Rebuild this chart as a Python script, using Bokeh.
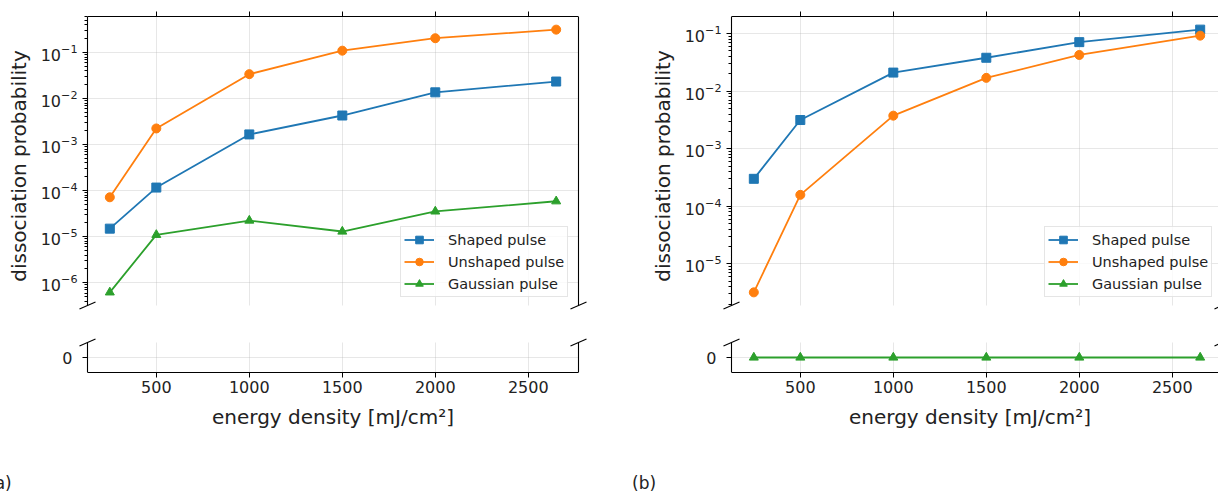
import numpy as np
from bokeh.plotting import figure
from bokeh.models import (ColumnDataSource, Range1d, LinearAxis, LogAxis, FixedTicker,
                          LogTickFormatter, CustomJSTickFormatter, Grid, Legend,
                          LegendItem, Div)
from bokeh.layouts import row, column
from bokeh.embed import file_html
from bokeh.resources import INLINE

# ---------------- data ----------------
energy = [250, 500, 1000, 1500, 2000, 2650]

a_shaped = [1.5e-5, 1.17e-4, 1.67e-3, 4.3e-3, 1.37e-2, 2.35e-2]
a_unshaped = [7.2e-5, 2.25e-3, 3.4e-2, 1.1e-1, 2.05e-1, 3.15e-1]
a_gaussian = [6.2e-7, 1.1e-5, 2.25e-5, 1.3e-5, 3.55e-5, 5.9e-5]

b_shaped = [3.0e-4, 3.15e-3, 2.1e-2, 3.8e-2, 7.1e-2, 1.17e-1]
b_unshaped = [3.2e-6, 1.58e-4, 3.75e-3, 1.7e-2, 4.25e-2, 9.2e-2]
b_gaussian = [0, 0, 0, 0, 0, 0]

series_names = ["Shaped pulse", "Unshaped pulse", "Gaussian pulse"]
x_ticks = [500, 1000, 1500, 2000, 2500]
a_decades = [-6, -5, -4, -3, -2, -1]
b_decades = [-5, -4, -3, -2, -1]
zero_ticks = [0]
x_label = "energy density [mJ/cm\u00b2]"
y_label = "dissociation probability"
panel_tags = ["(a)", "(b)"]

# ---------------- style / layout ----------------
colors = ["#1f77b4", "#ff7f0e", "#2ca02c"]
markers = ["square", "circle", "triangle"]
FONT = "DejaVu Sans"
TXT = "#222222"
TOP_H, BOT_H, FULL_W = 289, 30, 491   # axes sizes in px
M = 10                                 # frame extension beyond the spines (for break marks)
GRID_C, GRID_A = "#b0b0b0", 0.3
Z_LO, Z_HI = -0.055, 0.055             # limits of the "zero" axes

span = max(energy) - min(energy)
x_lo = min(energy) - 0.05 * span
x_hi = max(energy) + 0.05 * span
PX_X = FULL_W / (x_hi - x_lo)


def style_axis(ax):
    ax.axis_line_color = "black"
    ax.axis_line_width = 1.1
    ax.major_tick_line_color = "black"
    ax.minor_tick_line_color = "black"
    ax.major_tick_in = 0
    ax.major_tick_out = 5
    ax.minor_tick_in = 0
    ax.minor_tick_out = 0
    ax.major_label_text_font = FONT
    ax.major_label_text_color = TXT
    ax.major_label_text_font_size = "16px"
    ax.major_label_standoff = 4
    ax.axis_label_text_font = FONT
    ax.axis_label_text_font_size = "20px"
    ax.axis_label_text_font_style = "normal"
    ax.axis_label_text_color = TXT


def inner_left(ax):
    # axis sits at the frame edge; spine drawn separately M px inside
    ax.axis_line_color = None
    ax.major_tick_in = M
    ax.major_tick_out = 5 - M
    ax.minor_tick_in = M
    ax.minor_tick_out = 3 - M
    ax.major_label_standoff = 5


def panel(series, decades, left_b, frame_w, right_b, tag, indent):
    x0 = x_lo - M / PX_X
    x1 = x0 + frame_w / PX_X
    xr = Range1d(x0, x1)

    pos = [v for s in series for v in s if v > 0]
    llo, lhi = np.log10(min(pos)), np.log10(max(pos))
    mm = 0.05 * (lhi - llo)
    llo, lhi = llo - mm, lhi + mm
    px_dec = TOP_H / (lhi - llo)
    y_lo, y_hi = 10 ** llo, 10 ** lhi
    width = left_b + frame_w + right_b
    z_top = Z_HI + M * (Z_HI - Z_LO) / BOT_H

    common = dict(width=width, x_range=xr, x_axis_location=None, y_axis_location=None,
                  toolbar_location=None, output_backend="svg",
                  min_border_left=left_b, min_border_right=right_b,
                  outline_line_color=None)
    top = figure(height=16 + TOP_H + M + 10, y_range=Range1d(10 ** (llo - M / px_dec), y_hi),
                 y_axis_type="log", min_border_top=16, min_border_bottom=10, **common)
    bot = figure(height=7 + BOT_H + M + 98, y_range=Range1d(Z_LO, z_top),
                 min_border_top=7, min_border_bottom=98, **common)
    for p in (top, bot):
        p.center = [r for r in p.center if not isinstance(r, Grid)]

    majors = [10.0 ** e for e in decades]
    minors = [k * 10.0 ** e for e in range(decades[0] - 2, decades[-1] + 2) for k in range(2, 10)]
    minors = [v for v in minors if y_lo <= v <= y_hi]

    # --- top axes
    ly = LogAxis(ticker=FixedTicker(ticks=majors, minor_ticks=minors),
                 formatter=LogTickFormatter(), axis_label=y_label, bounds=(y_lo, y_hi))
    style_axis(ly)
    inner_left(ly)
    ly.axis_label_standoff = 7
    top.add_layout(ly, "left")
    ax_top = LinearAxis(ticker=FixedTicker(ticks=x_ticks),
                        formatter=CustomJSTickFormatter(code="return ''"),
                        bounds=(x_lo, x_hi))
    style_axis(ax_top)
    ax_top.major_label_standoff = 0
    top.add_layout(ax_top, "above")
    top.add_layout(Grid(dimension=0, ticker=FixedTicker(ticks=x_ticks), cross_bounds=(y_lo, y_hi),
                        grid_line_color=GRID_C, grid_line_alpha=GRID_A))
    top.add_layout(Grid(dimension=1, ticker=FixedTicker(ticks=majors), cross_bounds=(x_lo, x_hi),
                        grid_line_color=GRID_C, grid_line_alpha=GRID_A))

    # --- bottom axes
    lb = LinearAxis(ticker=FixedTicker(ticks=zero_ticks))
    style_axis(lb)
    inner_left(lb)
    bot.add_layout(lb, "left")
    bx = LinearAxis(ticker=FixedTicker(ticks=x_ticks), axis_label=x_label, bounds=(x_lo, x_hi))
    style_axis(bx)
    bx.major_label_standoff = 3
    bx.axis_label_standoff = 9
    bot.add_layout(bx, "below")
    bot.add_layout(Grid(dimension=0, ticker=FixedTicker(ticks=x_ticks), cross_bounds=(Z_LO, Z_HI),
                        grid_line_color=GRID_C, grid_line_alpha=GRID_A))
    bot.add_layout(Grid(dimension=1, ticker=FixedTicker(ticks=zero_ticks), cross_bounds=(x_lo, x_hi),
                        grid_line_color=GRID_C, grid_line_alpha=GRID_A))

    # --- spines (left and right) of the broken axes
    top.segment(x0=[x_lo, x_hi], y0=[y_lo, y_lo], x1=[x_lo, x_hi], y1=[y_hi, y_hi],
                line_color="black", line_width=1.1)
    bot.segment(x0=[x_lo, x_hi], y0=[Z_LO, Z_LO], x1=[x_lo, x_hi], y1=[Z_HI, Z_HI],
                line_color="black", line_width=1.1)

    # --- data
    items = []
    for name, vals, c, mk in zip(series_names, series, colors, markers):
        src = ColumnDataSource(dict(x=energy, y=vals))
        l = top.line("x", "y", source=src, line_color=c, line_width=1.8)
        s = top.scatter("x", "y", source=src, marker=mk, size=9, fill_color=c, line_color=c)
        items.append(LegendItem(label=name, renderers=[l, s]))
        xs_0 = [x for x, v in zip(energy, vals) if v == 0]
        if xs_0:
            src0 = ColumnDataSource(dict(x=xs_0, y=[0] * len(xs_0)))
            bot.line("x", "y", source=src0, line_color=c, line_width=1.8)
            bot.scatter("x", "y", source=src0, marker=mk, size=9, fill_color=c, line_color=c)

    leg = Legend(items=items, location=(323, 18), margin=0, padding=3,
                 spacing=3, glyph_width=30, glyph_height=19, label_height=19,
                 label_standoff=14, label_text_font=FONT,
                 label_text_font_size="14.5px", label_text_color=TXT,
                 border_line_color="#cccccc", border_line_width=1,
                 background_fill_alpha=0.8)
    top.add_layout(leg, "center")

    # --- break marks
    dx = 8 / PX_X
    dyd = 3.5 / px_dec
    dyz = 3.5 * (Z_HI - Z_LO) / BOT_H
    top.segment(x0=[x_lo - dx, x_hi - dx], y0=[y_lo * 10 ** (-dyd)] * 2,
                x1=[x_lo + dx, x_hi + dx], y1=[y_lo * 10 ** dyd] * 2,
                line_color="black", line_width=1.1)
    bot.segment(x0=[x_lo - dx, x_hi - dx], y0=[Z_HI - dyz] * 2,
                x1=[x_lo + dx, x_hi + dx], y1=[Z_HI + dyz] * 2,
                line_color="black", line_width=1.1)

    tag_div = Div(text=tag, width=width, height=23, margin=0,
                  styles={"font-family": FONT, "font-size": "17px", "line-height": "27px",
                          "color": TXT, "text-indent": f"{indent}px", "overflow": "hidden",
                          "white-space": "nowrap"})
    return column(top, bot, tag_div, spacing=0)


pa = panel([a_shaped, a_unshaped, a_gaussian], a_decades, 77, 511, 32, panel_tags[0], -12)
pb = panel([b_shaped, b_unshaped, b_gaussian], b_decades, 101, 497, 0, panel_tags[1], 12)
layout = row(pa, pb, spacing=0)

open("out.html", "w").write(file_html(layout, INLINE))
